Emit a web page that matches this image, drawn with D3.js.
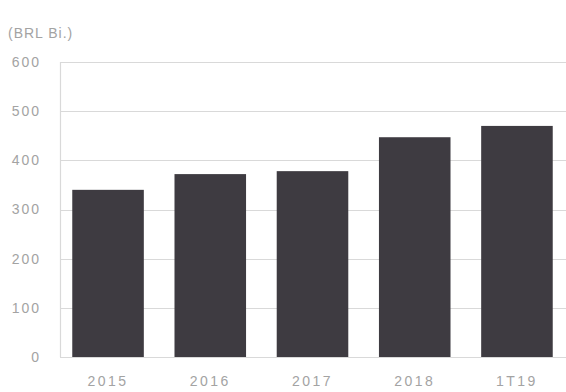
<!DOCTYPE html>
<html>
<head>
<meta charset="utf-8">
<script src="https://cdn.jsdelivr.net/npm/d3@7"></script>
<style>
  body { margin: 0; background: #fff; }
  text { font-family: "Liberation Sans", Arial, sans-serif; fill: #a3a3a3; }
</style>
</head>
<body>
<div id="chart"></div>
<script>
// values
var categories = ["2015", "2016", "2017", "2018", "1T19"];
var values = [340, 372, 378, 447, 470];
var yTicks = [0, 100, 200, 300, 400, 500, 600];
var unitLabel = "(BRL Bi.)";

var W = 566, H = 392;

var svg = d3.select("#chart")
  .append("svg")
    .attr("width", W)
    .attr("height", H);

var x = d3.scaleBand()
    .domain(categories)
    .range([60, 565])
    .paddingInner(0.3)
    .paddingOuter(0.12);

var y = d3.scaleLinear()
    .domain([0, 600])
    .range([357, 62]);

// grid lines
svg.append("g")
  .selectAll("line")
  .data(yTicks)
  .enter()
  .append("line")
    .attr("x1", 60)
    .attr("x2", W)
    .attr("y1", function(d) { return Math.round(y(d)) + 0.5; })
    .attr("y2", function(d) { return Math.round(y(d)) + 0.5; })
    .attr("stroke", "#d9d9d9")
    .attr("stroke-width", 1.2);

// left axis line
svg.append("line")
    .attr("x1", 60.5).attr("x2", 60.5)
    .attr("y1", y(600)).attr("y2", y(0))
    .attr("stroke", "#d9d9d9")
    .attr("stroke-width", 1.2);

// y labels
var yAxis = svg.append("g")
    .attr("transform", "translate(41,0)")
    .call(d3.axisLeft(y).tickValues(yTicks).tickSize(0).tickPadding(0));
yAxis.select(".domain").remove();
yAxis.selectAll("text")
    .attr("font-size", 14)
    .attr("letter-spacing", 2)
    .attr("font-family", null)
    .attr("fill", null);

// bars
svg.selectAll("rect.bar")
  .data(values)
  .enter()
  .append("rect")
    .attr("class", "bar")
    .attr("x", function(d, i) { return x(categories[i]); })
    .attr("y", function(d) { return y(d); })
    .attr("width", x.bandwidth())
    .attr("height", function(d) { return y(0) - y(d); })
    .attr("fill", "#3e3b41");

// x labels
var xAxis = svg.append("g")
    .attr("transform", "translate(0,376)")
    .call(d3.axisBottom(x).tickSize(0).tickPadding(0));
xAxis.select(".domain").remove();
xAxis.selectAll("text")
    .attr("font-size", 14)
    .attr("letter-spacing", 2.5)
    .attr("font-family", null)
    .attr("fill", null);

// unit label
svg.append("text")
    .attr("x", 8)
    .attr("y", 38)
    .attr("font-size", 14)
    .attr("letter-spacing", 1)
    .text(unitLabel);
</script>
</body>
</html>
